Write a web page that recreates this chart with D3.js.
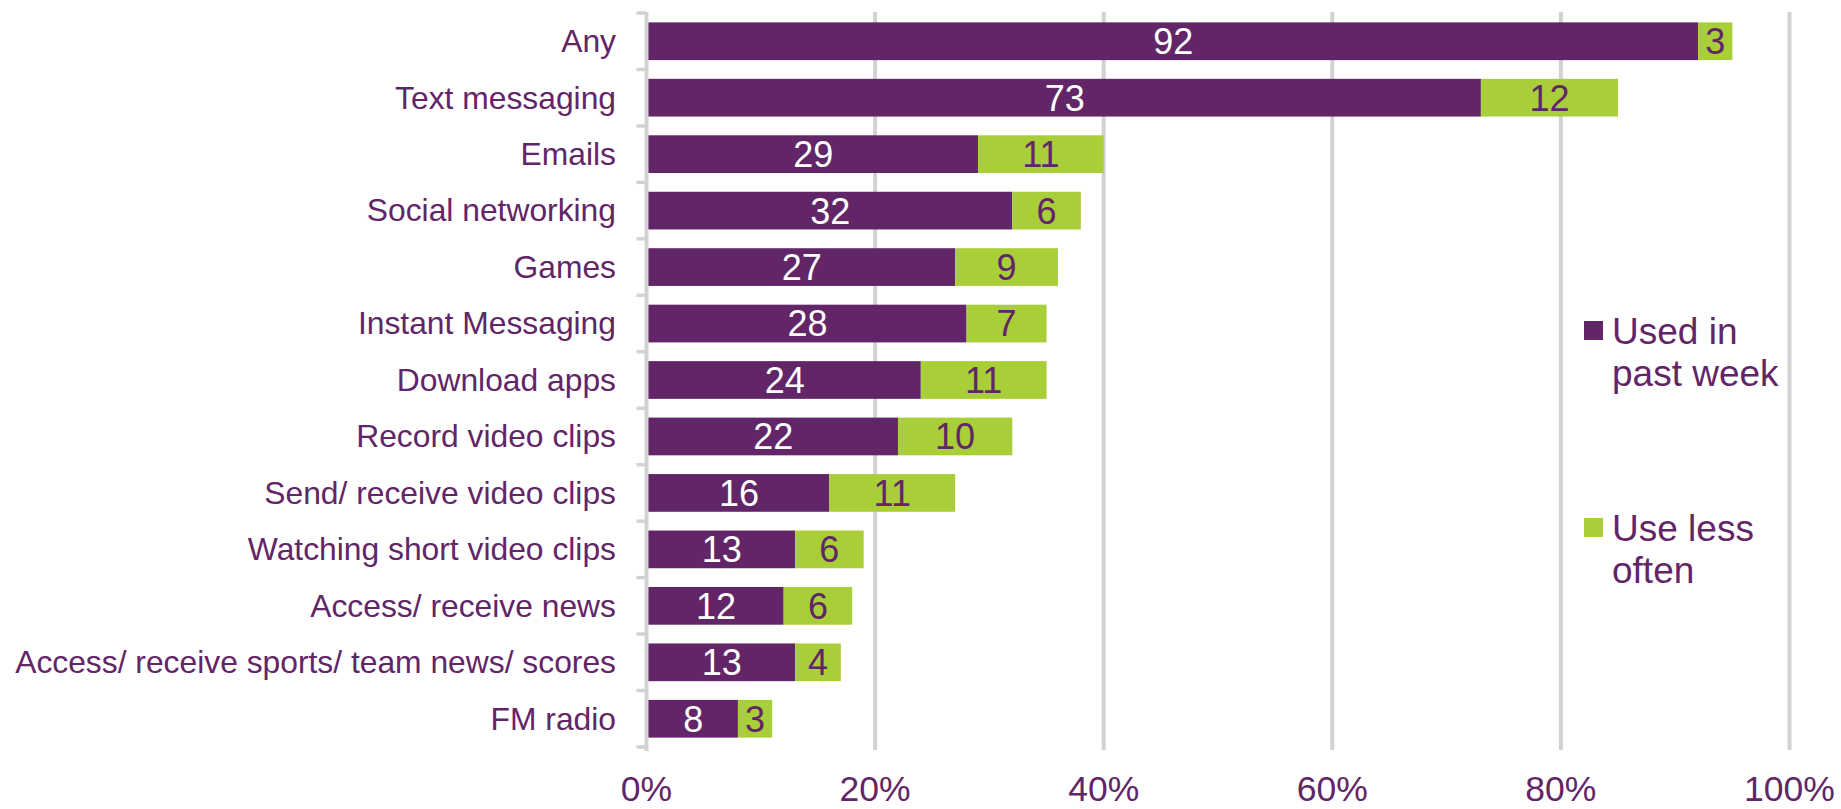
<!DOCTYPE html>
<html>
<head>
<meta charset="utf-8">
<script src="https://cdn.jsdelivr.net/npm/d3@7"></script>
<style>
    html, body { margin: 0; padding: 0; background: #ffffff; }
    svg { display: block; font-family: "Liberation Sans", Arial, sans-serif; }
</style>
</head>
<body>
<svg id="chart" width="1841" height="809"></svg>
<script>

// data (percent of respondents)
const categories = ["Any", "Text messaging", "Emails", "Social networking", "Games",
                    "Instant Messaging", "Download apps", "Record video clips",
                    "Send/ receive video clips", "Watching short video clips",
                    "Access/ receive news", "Access/ receive sports/ team news/ scores",
                    "FM radio"];
const usedPastWeek = [92, 73, 29, 32, 27, 28, 24, 22, 16, 13, 12, 13, 8];
const useLessOften = [3, 12, 11, 6, 9, 7, 11, 10, 11, 6, 6, 4, 3];
const xTicks = [0, 20, 40, 60, 80, 100];
const seriesNames = [["Used in", "past week"], ["Use less", "often"]];

const purple = "#622567";
const green = "#a8cf38";
const gridColor = "#d2d2d2";

const svg = d3.select("#chart");

let xScale = d3.scaleLinear()
               .domain([0, 100])
               .range([646.5, 1789.5]);

let yScale = d3.scaleBand()
               .domain(categories)
               .range([13, 747])
               .paddingInner(0.332)
               .paddingOuter(0.166);

let rows = categories.map(function(c, i) {
    return { cat: c, week: usedPastWeek[i], less: useLessOften[i] };
});

// gridlines sit behind the bars
function drawGrid() {
    svg.append("g")
       .attr("id", "grid")
       .selectAll("line")
       .data(xTicks.slice(1))
       .join("line")
       .attr("x1", d => xScale(d))
       .attr("x2", d => xScale(d))
       .attr("y1", 12)
       .attr("y2", 750)
       .attr("stroke", gridColor)
       .attr("stroke-width", 4);
}

function drawBars() {
    let bars = svg.append("g").attr("id", "bars");

    bars.selectAll("rect.week")
        .data(rows)
        .join("rect")
        .attr("class", "week")
        .attr("x", xScale(0))
        .attr("y", d => yScale(d.cat))
        .attr("width", d => xScale(d.week) - xScale(0))
        .attr("height", yScale.bandwidth())
        .attr("fill", purple);

    bars.selectAll("rect.less")
        .data(rows)
        .join("rect")
        .attr("class", "less")
        .attr("x", d => xScale(d.week))
        .attr("y", d => yScale(d.cat))
        .attr("width", d => xScale(d.week + d.less) - xScale(d.week))
        .attr("height", yScale.bandwidth())
        .attr("fill", green);

    bars.selectAll("text.week")
        .data(rows)
        .join("text")
        .attr("class", "week")
        .attr("x", d => (xScale(0) + xScale(d.week)) / 2 + 1)
        .attr("y", d => yScale(d.cat) + yScale.bandwidth() / 2)
        .attr("dy", "0.36em")
        .attr("text-anchor", "middle")
        .attr("font-size", "36px")
        .attr("fill", "#ffffff")
        .text(d => d.week);

    bars.selectAll("text.less")
        .data(rows)
        .join("text")
        .attr("class", "less")
        .attr("x", d => (xScale(d.week) + xScale(d.week + d.less)) / 2)
        .attr("y", d => yScale(d.cat) + yScale.bandwidth() / 2)
        .attr("dy", "0.36em")
        .attr("text-anchor", "middle")
        .attr("font-size", "36px")
        .attr("fill", purple)
        .text(d => d.less);
}

function drawAxes() {
    // category axis: ticks fall between bands, like the source
    let bounds = categories.map(c => yScale(c) - yScale.step() * yScale.paddingInner() / 2);
    bounds.push(yScale.range()[1]);

    let yAxis = svg.append("g").attr("id", "yAxis");

    yAxis.append("line")
         .attr("x1", xScale(0))
         .attr("x2", xScale(0))
         .attr("y1", 12)
         .attr("y2", 751)
         .attr("stroke", gridColor)
         .attr("stroke-width", 4);

    yAxis.selectAll("line.tick")
         .data(bounds)
         .join("line")
         .attr("class", "tick")
         .attr("x1", xScale(0) - 10)
         .attr("x2", xScale(0))
         .attr("y1", d => d)
         .attr("y2", d => d)
         .attr("stroke", gridColor)
         .attr("stroke-width", 3.5);

    yAxis.selectAll("text")
         .data(categories)
         .join("text")
         .attr("x", 616)
         .attr("y", d => yScale(d) + yScale.bandwidth() / 2)
         .attr("dy", "0.34em")
         .attr("text-anchor", "end")
         .attr("font-size", "31.8px")
         .attr("fill", purple)
         .text(d => d);

    // pulled up a few px so the descent stays inside the frame
    svg.append("g")
       .attr("id", "xAxis")
       .selectAll("text")
       .data(xTicks)
       .join("text")
       .attr("x", d => xScale(d))
       .attr("y", 801)
       .attr("text-anchor", "middle")
       .attr("font-size", "35.5px")
       .attr("fill", purple)
       .text(d => d + "%");
}

function drawLegend() {
    let legend = svg.append("g").attr("id", "legend");
    let items = [
        { color: purple, lines: seriesNames[0], top: 321 },
        { color: green, lines: seriesNames[1], top: 518 }
    ];

    let item = legend.selectAll("g")
                     .data(items)
                     .join("g")
                     .attr("transform", d => "translate(1584," + d.top + ")");

    item.append("rect")
        .attr("width", 19)
        .attr("height", 19)
        .attr("fill", d => d.color);

    item.append("text")
        .attr("font-size", "37px")
        .attr("fill", purple)
        .selectAll("tspan")
        .data(d => d.lines)
        .join("tspan")
        .attr("x", 28)
        .attr("y", (d, i) => 23 + i * 42)
        .text(d => d);
}

drawGrid();
drawBars();
drawAxes();
drawLegend();

</script>
</body>
</html>
